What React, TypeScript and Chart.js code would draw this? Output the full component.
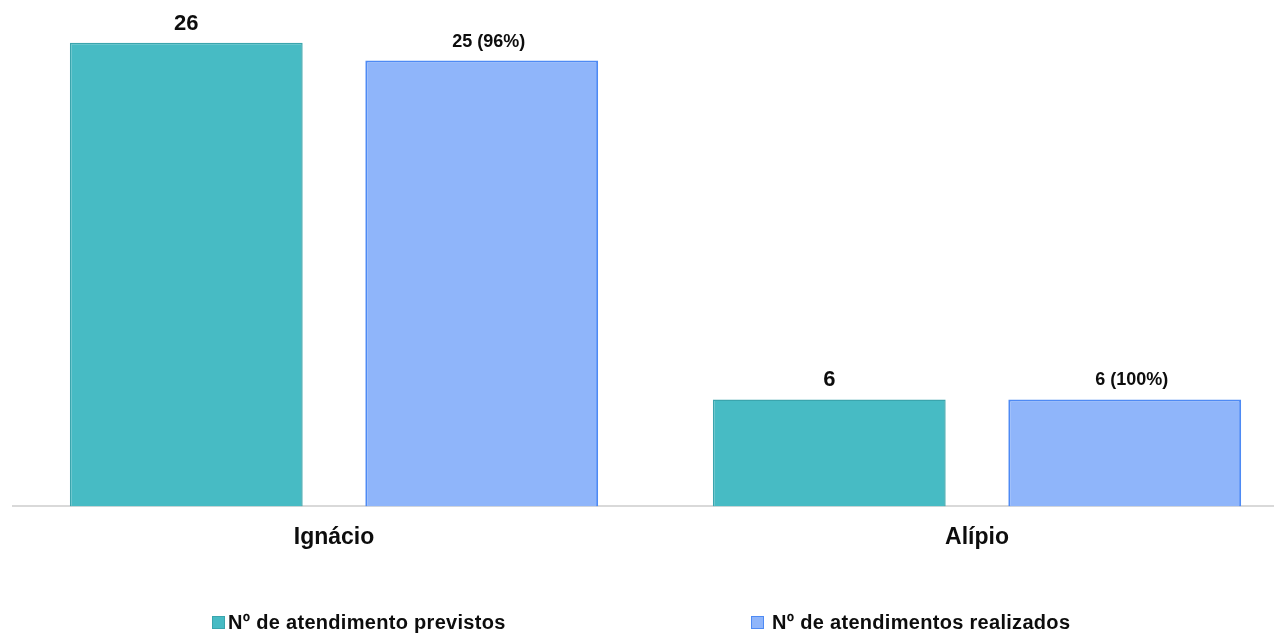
import React, { useEffect, useRef } from "react";
import { Chart, registerables } from "chart.js";

Chart.register(...registerables);

const categories = ["Ignácio", "Alípio"];
const seriesNames = ["Nº de atendimento previstos", "Nº de atendimentos realizados"];
const planned = [26, 6];
const realized = [25, 6];
const yMax = 28;

const FONT = '"Liberation Sans", Arial, sans-serif';
const TEXT = "#0d0d0d";
const fills = ["#47BBC4", "#8FB5FA"];
const borders = ["#3AA5AD", "#4E8AF4"];

const labelPlugin = {
  id: "barLabels",
  afterDatasetsDraw(chart: any) {
    const ctx = chart.ctx;
    chart.data.datasets.forEach((ds: any, di: number) => {
      const meta = chart.getDatasetMeta(di);
      meta.data.forEach((bar: any, i: number) => {
        const v = ds.data[i] as number;
        const text = di === 0 ? String(v) : `${v} (${Math.round((v / planned[i]) * 100)}%)`;
        ctx.save();
        ctx.font = `bold ${di === 0 ? 22 : 18}px ${FONT}`;
        ctx.fillStyle = TEXT;
        ctx.textAlign = "center";
        ctx.textBaseline = "alphabetic";
        ctx.fillText(text, bar.x + (di === 0 ? 0 : 7), bar.y - (di === 0 ? 13 : 14));
        ctx.restore();
      });
    });
  },
};

export default function App() {
  const ref = useRef<HTMLCanvasElement>(null);

  useEffect(() => {
    if (!ref.current) return;
    const chart = new Chart(ref.current, {
      type: "bar",
      data: {
        labels: categories,
        datasets: [
          {
            label: seriesNames[0],
            data: planned,
            backgroundColor: fills[0],
            borderColor: borders[0],
            borderWidth: 1.5,
            barPercentage: 0.788,
            categoryPercentage: 0.919,
          },
          {
            label: seriesNames[1],
            data: realized,
            backgroundColor: fills[1],
            borderColor: borders[1],
            borderWidth: 2,
            barPercentage: 0.788,
            categoryPercentage: 0.919,
          },
        ],
      },
      options: {
        responsive: false,
        animation: false,
        layout: { padding: { left: 12.5, right: 1.5, top: 7, bottom: 67 } },
        plugins: { legend: { display: false }, tooltip: { enabled: false } },
        scales: {
          x: {
            z: 1,
            grid: { display: false, drawTicks: false },
            border: { display: true, color: "#d9d9d9", width: 2 },
            ticks: { padding: 17, color: TEXT, font: { size: 23, weight: "bold", family: FONT } },
          },
          y: { display: false, min: 0, max: yMax },
        },
      },
      plugins: [labelPlugin],
    } as any);
    return () => chart.destroy();
  }, []);

  const legendItem = (i: number, left: number) => (
    <div
      key={i}
      style={{
        position: "absolute",
        left,
        top: 0,
        display: "flex",
        alignItems: "center",
        whiteSpace: "nowrap",
      }}
    >
      <span
        style={{
          display: "inline-block",
          width: 11,
          height: 11,
          background: fills[i],
          border: `1px solid ${borders[i]}`,
          marginRight: i === 0 ? 3 : 8,
        }}
      />
      <span
        style={{
          font: `bold 20px ${FONT}`,
          color: TEXT,
          lineHeight: "24px",
          letterSpacing: "0.3px",
        }}
      >
        {seriesNames[i]}
      </span>
    </div>
  );

  return (
    <div
      style={{
        position: "fixed",
        left: 0,
        top: 0,
        width: 1274,
        height: 635,
        overflow: "hidden",
        background: "#fff",
      }}
    >
      <canvas ref={ref} width={1300} height={635} style={{ display: "block" }} />
      <div style={{ position: "absolute", left: 0, top: 610, width: 1274, height: 24 }}>
        {legendItem(0, 212)}
        {legendItem(1, 751)}
      </div>
    </div>
  );
}
